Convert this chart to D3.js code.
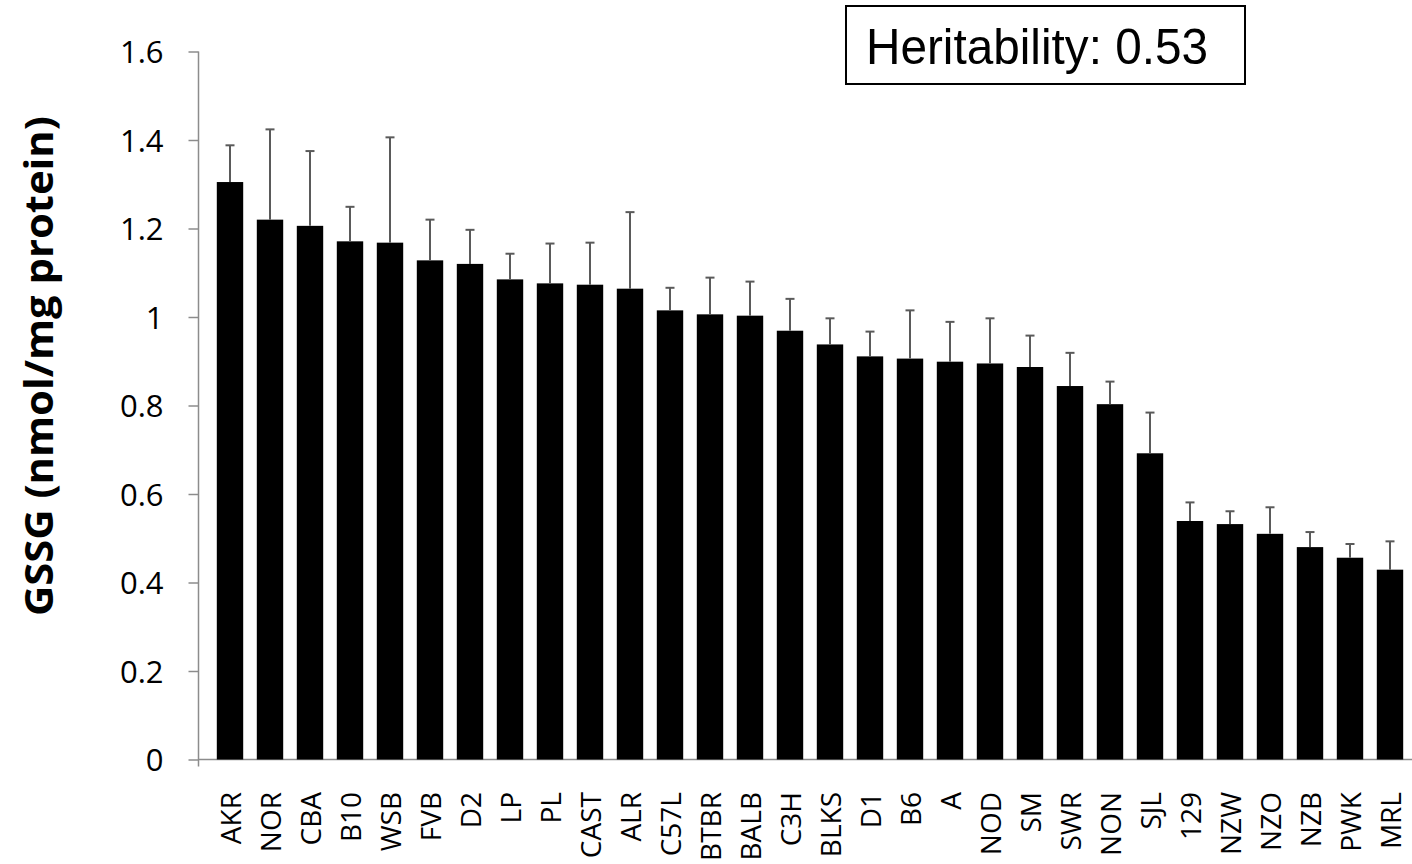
<!DOCTYPE html>
<html>
<head>
<meta charset="utf-8">
<script src="https://cdn.jsdelivr.net/npm/d3@7"></script>
<style>
  body { margin: 0; background: #fff; }
  svg { display: block; }
</style>
</head>
<body>
<div id="chart"></div>
<script>
// --- Data ---
const strains = ['AKR', 'NOR', 'CBA', 'B10', 'WSB', 'FVB', 'D2', 'LP', 'PL', 'CAST',
  'ALR', 'C57L', 'BTBR', 'BALB', 'C3H', 'BLKS', 'D1', 'B6', 'A', 'NOD',
  'SM', 'SWR', 'NON', 'SJL', '129', 'NZW', 'NZO', 'NZB', 'PWK', 'MRL'];
const gssg = [1.305, 1.220, 1.206, 1.171, 1.168, 1.128, 1.120, 1.085, 1.076, 1.073,
  1.064, 1.015, 1.006, 1.003, 0.969, 0.938, 0.911, 0.906, 0.899, 0.895,
  0.887, 0.844, 0.803, 0.692, 0.539, 0.532, 0.510, 0.480, 0.456, 0.429];
const gssgErr = [0.083, 0.204, 0.169, 0.078, 0.238, 0.092, 0.077, 0.058, 0.090, 0.095,
  0.173, 0.051, 0.083, 0.077, 0.072, 0.059, 0.056, 0.109, 0.090, 0.102,
  0.071, 0.075, 0.051, 0.092, 0.042, 0.029, 0.060, 0.034, 0.031, 0.064];
const yTicks = [0, 0.2, 0.4, 0.6, 0.8, 1, 1.2, 1.4, 1.6];
const yTitle = 'GSSG (nmol/mg protein)';
const noteText = 'Heritability: 0.53';

// --- Config ---
const width = 1412;
const height = 864;
const axisColor = '#8c8c8c';
const errColor = '#5a5a5a';

const svg = d3.select('#chart').append('svg')
    .attr('width', width)
    .attr('height', height);

const x = d3.scaleBand()
    .domain(strains)
    .range([210, 1410])
    .paddingInner(0.34)
    .paddingOuter(0.17);

const y = d3.scaleLinear()
    .domain([0, 1.6])
    .range([759.5, 51.5]);

// --- Y axis ---
const yAxis = svg.append('g')
    .attr('transform', 'translate(198.5,0)')
    .call(d3.axisLeft(y).tickValues(yTicks).tickSize(10).tickPadding(25)
        .tickFormat(d => d3.format('~g')(d)));
yAxis.select('.domain').attr('stroke', axisColor).attr('stroke-width', 1.5)
    .attr('d', `M0,${y(1.6)}V${y(0) + 7}`);
yAxis.selectAll('.tick line').attr('stroke', axisColor).attr('stroke-width', 1.5);
yAxis.selectAll('.tick text')
    .attr('fill', '#000')
    .style('font-family', '"Open Sans", sans-serif')
    .style('font-size', '31px')
    .attr('dy', '0.36em');

// --- X axis line ---
svg.append('line')
    .attr('x1', 198.5).attr('x2', width)
    .attr('y1', y(0)).attr('y2', y(0))
    .attr('stroke', axisColor).attr('stroke-width', 1.5);

// --- Bars ---
svg.append('g').selectAll('rect')
    .data(strains)
    .join('rect')
    .attr('x', d => x(d))
    .attr('width', x.bandwidth())
    .attr('y', (d, i) => y(gssg[i]))
    .attr('height', (d, i) => y(0) - y(gssg[i]))
    .attr('fill', '#000');

// --- Error bars (upper only) ---
const eb = svg.append('g').attr('stroke', errColor).attr('stroke-width', 2);
strains.forEach((s, i) => {
  const cx = x(s) + x.bandwidth() / 2;
  const top = y(gssg[i] + gssgErr[i]);
  eb.append('line').attr('x1', cx).attr('x2', cx).attr('y1', y(gssg[i])).attr('y2', top);
  eb.append('line').attr('x1', cx - 4.5).attr('x2', cx + 4.5).attr('y1', top).attr('y2', top);
});

// --- Category labels ---
svg.append('g').selectAll('text')
    .data(strains)
    .join('text')
    .attr('transform', d => `translate(${x(d) + x.bandwidth() / 2 + 11},792) rotate(-90)`)
    .attr('text-anchor', 'end')
    .style('font-family', '"Open Sans", sans-serif')
    .style('font-size', '28px')
    .text(d => d);

// --- Y title ---
svg.append('text')
    .attr('transform', 'translate(53,366) rotate(-90)')
    .attr('text-anchor', 'middle')
    .style('font-family', '"Open Sans", sans-serif')
    .style('font-weight', 'bold')
    .style('font-size', '40px')
    .attr('textLength', 500)
    .attr('lengthAdjust', 'spacingAndGlyphs')
    .text(yTitle);

// --- Heritability box ---
svg.append('rect')
    .attr('x', 846).attr('y', 6)
    .attr('width', 399).attr('height', 78)
    .attr('fill', '#fff')
    .attr('stroke', '#000')
    .attr('stroke-width', 2);
svg.append('text')
    .attr('x', 866).attr('y', 64)
    .style('font-family', '"Liberation Sans", Arial, sans-serif')
    .style('font-size', '50px')
    .attr('textLength', 342)
    .attr('lengthAdjust', 'spacingAndGlyphs')
    .text(noteText);
</script>
</body>
</html>
